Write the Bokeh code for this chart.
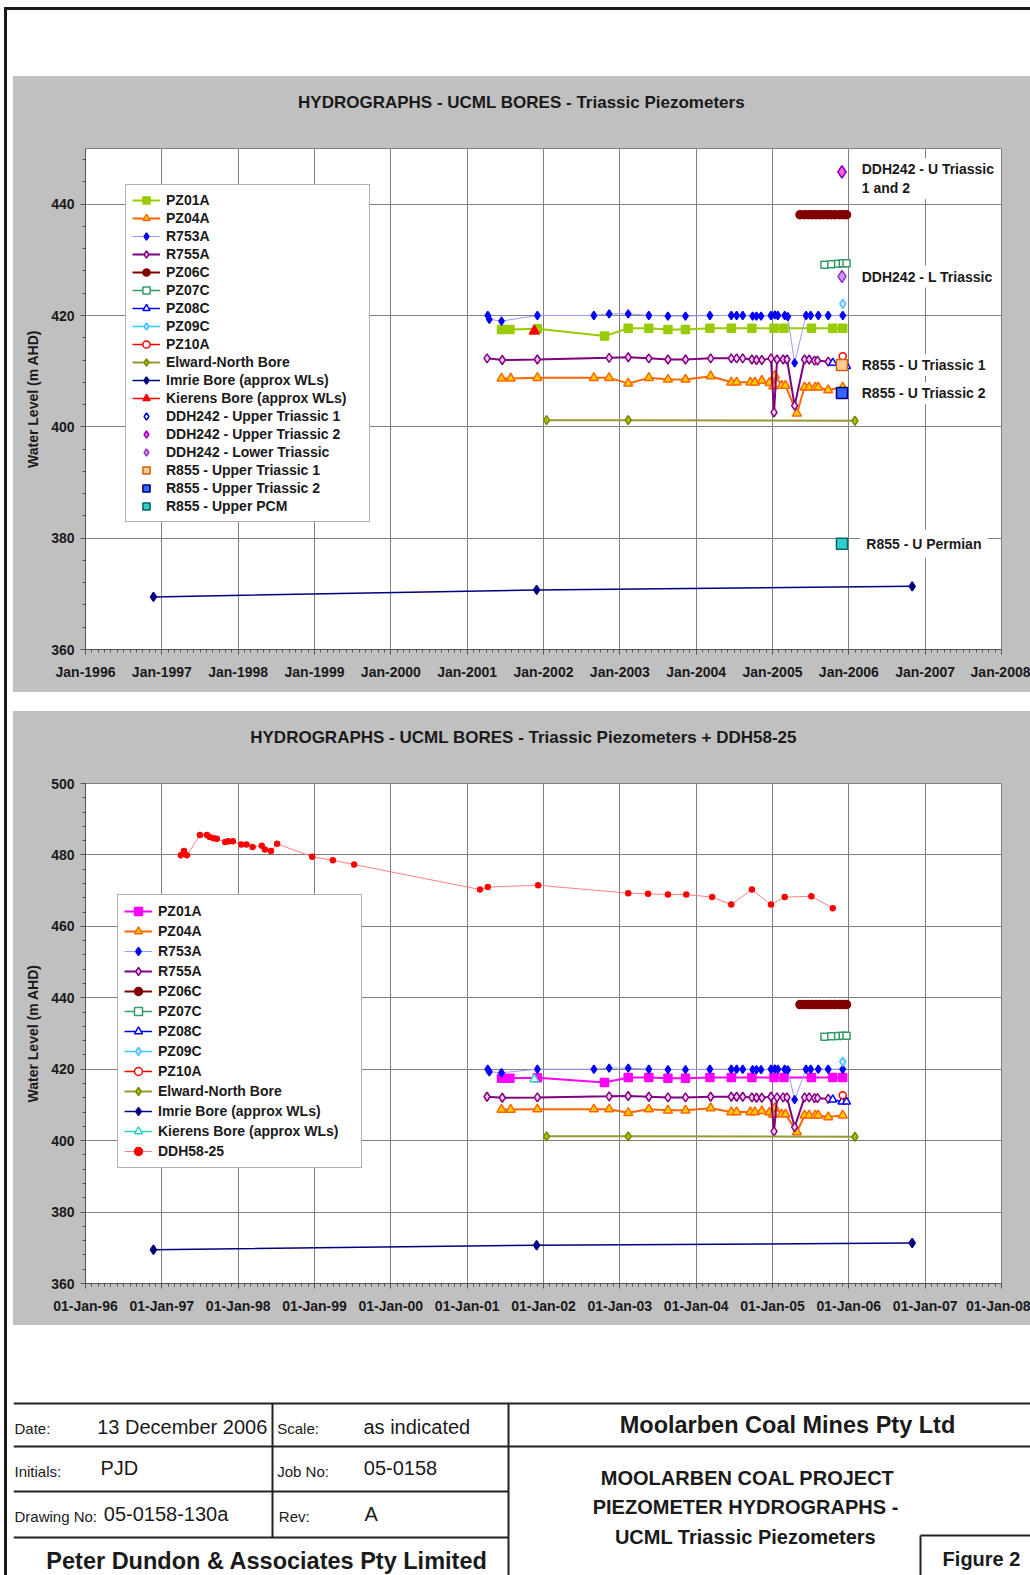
from bokeh.plotting import figure
from bokeh.models import Range1d, FixedTicker, Legend, LegendItem, Label, Div
from bokeh.layouts import row, column
from bokeh.embed import file_html
from bokeh.resources import INLINE
from bokeh.core.properties import value

FONT = "Liberation Sans"

# ---------------- axis ticks / labels ----------------
tick_years = [1996, 1997, 1998, 1999, 2000, 2001, 2002, 2003, 2004, 2005, 2006, 2007, 2008]
tick_labels_top = ["Jan-1996", "Jan-1997", "Jan-1998", "Jan-1999", "Jan-2000", "Jan-2001", "Jan-2002",
                   "Jan-2003", "Jan-2004", "Jan-2005", "Jan-2006", "Jan-2007", "Jan-2008"]
tick_labels_bottom = ["01-Jan-96", "01-Jan-97", "01-Jan-98", "01-Jan-99", "01-Jan-00", "01-Jan-01", "01-Jan-02",
                      "01-Jan-03", "01-Jan-04", "01-Jan-05", "01-Jan-06", "01-Jan-07", "01-Jan-08"]
y_ticks_top = [360, 380, 400, 420, 440]
y_ticks_bottom = [360, 380, 400, 420, 440, 460, 480, 500]

# ---------------- series: time (decimal year) and water level (m AHD) ----------------
pz01a_t = [2001.45, 2001.56, 2001.92, 2002.80, 2003.11, 2003.38, 2003.63, 2003.86, 2004.18, 2004.46,
           2004.73, 2005.02, 2005.15, 2005.51, 2005.79, 2005.92]
pz01a_v = [417.5, 417.5, 417.6, 416.3, 417.7, 417.7, 417.5, 417.5, 417.7, 417.7,
           417.7, 417.7, 417.7, 417.7, 417.7, 417.7]

pz04a_t = [2001.45, 2001.57, 2001.92, 2002.66, 2002.86, 2003.11, 2003.38, 2003.63, 2003.86, 2004.19,
           2004.46, 2004.53, 2004.71, 2004.77, 2004.86, 2004.96, 2005.01, 2005.03, 2005.12, 2005.17,
           2005.32, 2005.42, 2005.48, 2005.56, 2005.60, 2005.73, 2005.92]
pz04a_v = [408.7, 408.7, 408.8, 408.8, 408.8, 407.8, 408.8, 408.5, 408.5, 409.1,
           408.0, 408.0, 408.0, 408.0, 408.3, 407.9, 407.3, 409.2, 407.4, 407.4,
           402.4, 407.1, 407.1, 407.1, 407.1, 406.6, 407.1]

r753a_t = [2001.27, 2001.29, 2001.45, 2001.92, 2002.66, 2002.86, 2003.11, 2003.38, 2003.63, 2003.86,
           2004.18, 2004.46, 2004.53, 2004.61, 2004.74, 2004.79, 2004.85, 2004.98, 2005.03, 2005.07,
           2005.16, 2005.20, 2005.29, 2005.44, 2005.50, 2005.60, 2005.73, 2005.92]
r753a_v = [420.0, 419.3, 419.0, 420.0, 420.0, 420.3, 420.3, 420.0, 419.9, 419.9,
           420.0, 420.0, 420.0, 420.0, 419.9, 419.9, 419.9, 420.0, 420.1, 420.0,
           420.0, 419.8, 411.5, 420.0, 420.0, 420.0, 420.0, 420.0]

r755a_t = [2001.26, 2001.46, 2001.92, 2002.86, 2003.11, 2003.38, 2003.63, 2003.86, 2004.19, 2004.46,
           2004.53, 2004.61, 2004.73, 2004.79, 2004.86, 2004.98, 2005.02, 2005.06, 2005.14, 2005.19,
           2005.29, 2005.42, 2005.48, 2005.55, 2005.59, 2005.73]
r755a_v = [412.3, 412.0, 412.1, 412.4, 412.5, 412.3, 412.1, 412.1, 412.3, 412.3,
           412.3, 412.3, 412.1, 412.0, 412.0, 412.3, 402.6, 412.1, 412.1, 412.1,
           403.8, 412.1, 412.1, 411.9, 411.9, 411.7]

pz06c_t = [2005.36, 2005.42, 2005.47, 2005.52, 2005.57, 2005.62, 2005.67, 2005.72, 2005.77, 2005.82,
           2005.88, 2005.93, 2005.97]
pz06c_v = [438.1, 438.1, 438.1, 438.1, 438.1, 438.1, 438.1, 438.1, 438.1, 438.1,
           438.1, 438.1, 438.1]

pz07c_t = [2005.68, 2005.77, 2005.86, 2005.92, 2005.97]
pz07c_v = [429.1, 429.2, 429.3, 429.4, 429.4]

pz08c_t = [2005.79, 2005.91, 2005.97]
pz08c_v = [411.5, 410.9, 410.9]

pz09c_t = [2005.92]
pz09c_v = [422.1]

pz10a_t = [2005.92]
pz10a_v = [412.7]

elward_t = [2002.04, 2003.11, 2006.08]
elward_v = [401.2, 401.2, 401.1]

imrie_t = [1996.89, 2001.91, 2006.83]
imrie_v = [369.45, 370.7, 371.35]

kierens_t = [2001.88]
kierens_v = [417.2]

ddh242_ut1_t = [2005.91]
ddh242_ut1_v = [445.8]
ddh242_ut2_t = [2005.91]
ddh242_ut2_v = [445.8]
ddh242_lt_t = [2005.91]
ddh242_lt_v = [427.0]

r855_ut1_t = [2005.91]
r855_ut1_v = [411.1]
r855_ut2_t = [2005.91]
r855_ut2_v = [406.1]
r855_pcm_t = [2005.91]
r855_pcm_v = [379.0]

ddh58_t = [1997.25, 1997.29, 1997.33, 1997.50, 1997.59, 1997.63, 1997.68, 1997.72, 1997.83, 1997.87,
           1997.93, 1998.04, 1998.11, 1998.19, 1998.31, 1998.35, 1998.43, 1998.51, 1998.97, 1999.24,
           1999.52, 2001.17, 2001.27, 2001.93, 2003.11, 2003.37, 2003.63, 2003.87, 2004.21, 2004.46,
           2004.73, 2004.98, 2005.16, 2005.51, 2005.79]
ddh58_v = [479.9, 481.1, 479.9, 485.6, 485.6, 485.0, 484.7, 484.5, 483.6, 483.8,
           483.8, 482.9, 482.9, 482.2, 482.6, 481.5, 481.1, 483.1, 479.5, 478.5,
           477.3, 470.3, 471.0, 471.5, 469.3, 469.1, 468.9, 468.9, 468.2, 466.1,
           470.3, 466.1, 468.2, 468.4, 465.1]


def sty(line, lw, marker, size, fill, outline):
    return dict(line=line, lw=lw, marker=marker, size=size, fill=fill, outline=outline)


series_top = [
    ("PZ01A", pz01a_t, pz01a_v, sty("#99CC00", 2, "square", 8, "#99CC00", "#99CC00")),
    ("PZ04A", pz04a_t, pz04a_v, sty("#FF6600", 2, "triangle", 9, "#FFCC00", "#FF6600")),
    ("R753A", r753a_t, r753a_v, sty("#9999FF", 1, "diamond", 8, "#0000FF", "#0000FF")),
    ("R755A", r755a_t, r755a_v, sty("#800080", 2, "diamond", 9, "#FFCCFF", "#800080")),
    ("PZ06C", pz06c_t, pz06c_v, sty("#800000", 2, "circle", 8, "#800000", "#800000")),
    ("PZ07C", pz07c_t, pz07c_v, sty("#339966", 1.5, "square", 7, "white", "#339966")),
    ("PZ08C", pz08c_t, pz08c_v, sty("#0000FF", 1.5, "triangle", 8, "white", "#0000FF")),
    ("PZ09C", pz09c_t, pz09c_v, sty("#33CCFF", 1.5, "diamond", 9, "#FFCCFF", "#33CCFF")),
    ("PZ10A", pz10a_t, pz10a_v, sty("#FF0000", 1.5, "circle", 7, "white", "#FF0000")),
    ("Elward-North Bore", elward_t, elward_v, sty("#999933", 2, "diamond", 9, "#99CC00", "#808000")),
    ("Imrie Bore (approx WLs)", imrie_t, imrie_v, sty("#000080", 1.5, "diamond", 9, "#000080", "#000080")),
    ("Kierens Bore (approx WLs)", kierens_t, kierens_v, sty("#FF0000", 1.5, "triangle", 10, "#FF0000", "#FF0000")),
    ("DDH242 - Upper Triassic 1", ddh242_ut1_t, ddh242_ut1_v, sty(None, 0, "diamond", 12, "white", "#0000CC")),
    ("DDH242 - Upper Triassic 2", ddh242_ut2_t, ddh242_ut2_v, sty(None, 0, "diamond", 12, "#FF66CC", "#9900CC")),
    ("DDH242 - Lower Triassic", ddh242_lt_t, ddh242_lt_v, sty(None, 0, "diamond", 12, "#CC99FF", "#9933CC")),
    ("R855 - Upper Triassic 1", r855_ut1_t, r855_ut1_v, sty(None, 0, "square", 11, "#FFCC99", "#CC6600")),
    ("R855 - Upper Triassic 2", r855_ut2_t, r855_ut2_v, sty(None, 0, "square", 11, "#3366FF", "#000080")),
    ("R855 - Upper PCM", r855_pcm_t, r855_pcm_v, sty(None, 0, "square", 11, "#33CCCC", "#006666")),
]

series_bottom = [
    ("PZ01A", pz01a_t, pz01a_v, sty("#FF00FF", 2, "square", 8, "#FF00FF", "#FF00FF")),
    ("PZ04A", pz04a_t, pz04a_v, sty("#FF6600", 2, "triangle", 9, "#FFCC00", "#FF6600")),
    ("R753A", r753a_t, r753a_v, sty("#9999FF", 1, "diamond", 8, "#0000FF", "#0000FF")),
    ("R755A", r755a_t, r755a_v, sty("#800080", 2, "diamond", 9, "#FFCCFF", "#800080")),
    ("PZ06C", pz06c_t, pz06c_v, sty("#800000", 2, "circle", 8, "#800000", "#800000")),
    ("PZ07C", pz07c_t, pz07c_v, sty("#339966", 1.5, "square", 7, "white", "#339966")),
    ("PZ08C", pz08c_t, pz08c_v, sty("#0000FF", 1.5, "triangle", 8, "white", "#0000FF")),
    ("PZ09C", pz09c_t, pz09c_v, sty("#33CCFF", 1.5, "diamond", 9, "#FFCCFF", "#33CCFF")),
    ("PZ10A", pz10a_t, pz10a_v, sty("#FF0000", 1.5, "circle", 7, "white", "#FF0000")),
    ("Elward-North Bore", elward_t, elward_v, sty("#999933", 2, "diamond", 9, "#99CC00", "#808000")),
    ("Imrie Bore (approx WLs)", imrie_t, imrie_v, sty("#000080", 1.5, "diamond", 9, "#000080", "#000080")),
    ("Kierens Bore (approx WLs)", kierens_t, kierens_v, sty("#33CCCC", 1.5, "triangle", 9, "white", "#33CCCC")),
    ("DDH58-25", ddh58_t, ddh58_v, sty("#FF8080", 1, "circle", 5, "#FF0000", "#FF0000")),
]

notes_top = [
    (2006.13, 444.6, "DDH242 - U Triassic\n1 and 2", 3),
    (2006.13, 427.0, "DDH242 - L Triassic", 3),
    (2006.13, 411.1, "R855 - U Triassic 1", 3),
    (2006.13, 406.1, "R855 - U Triassic 2", 3),
    (2006.15, 379.0, "R855 - U Permian", 6),
]

GRAY = "#C0C0C0"
FIG_W = 1017
HEAD_H = 62
TOP_PAD = 10
GRAY_HOST = {"background-color": GRAY}


def no_align(fig):
    try:
        fig.frame_align = False
    except Exception:
        pass


def make_header(title, cx, cy):
    h = figure(width=FIG_W, height=HEAD_H, x_range=Range1d(0, FIG_W), y_range=Range1d(0, HEAD_H),
               output_backend="svg", toolbar_location=None, min_border=0,
               x_axis_location=None, y_axis_location=None, outline_line_color=None,
               background_fill_color=GRAY, border_fill_color=GRAY, margin=0, styles=GRAY_HOST)
    h.grid.visible = False
    no_align(h)
    h.add_layout(Label(x=cx, y=cy, text=title, text_font=FONT, text_font_style="bold",
                       text_font_size="17px", text_color="#1a1a1a", text_align="center",
                       text_baseline="middle"))
    return h


def make_chart(ymax, yticks, tick_labels, series, legend_xy, row_h, height, mb_bottom, notes):
    p = figure(width=FIG_W, height=height, x_range=Range1d(1996, 2008), y_range=Range1d(360, ymax),
               output_backend="svg", toolbar_location=None,
               min_border_left=72, min_border_right=29, min_border_top=TOP_PAD,
               min_border_bottom=mb_bottom, background_fill_color="white",
               border_fill_color=GRAY, outline_line_color="#808080", margin=0, styles=GRAY_HOST)
    p.xaxis.ticker = FixedTicker(ticks=tick_years, minor_ticks=[1996 + m / 12 for m in range(145)])
    p.xaxis.major_label_overrides = {y: lab for y, lab in zip(tick_years, tick_labels)}
    p.yaxis.ticker = FixedTicker(ticks=yticks, minor_ticks=list(range(360, ymax + 1, 4)))
    for ax in (p.xaxis[0], p.yaxis[0]):
        ax.axis_line_color = "#555555"
        ax.major_tick_line_color = "#555555"
        ax.minor_tick_line_color = "#555555"
        ax.major_tick_in = 0
        ax.major_tick_out = 5
        ax.minor_tick_in = 0
        ax.minor_tick_out = 3
        ax.major_label_text_font = FONT
        ax.major_label_text_font_style = "bold"
        ax.major_label_text_font_size = "14px"
        ax.major_label_text_color = "#1a1a1a"
    p.xaxis.major_label_standoff = 9
    p.yaxis.major_label_standoff = 6
    p.yaxis.axis_label = "Water Level (m AHD)"
    p.yaxis.axis_label_text_font = FONT
    p.yaxis.axis_label_text_font_size = "14px"
    p.yaxis.axis_label_text_font_style = "bold"
    p.yaxis.axis_label_text_color = "#1a1a1a"
    p.yaxis.axis_label_standoff = 7
    p.grid.grid_line_color = "#808080"
    p.grid.grid_line_width = 1

    items = []
    for name, t, v, s in series:
        rs = []
        if s["line"]:
            rs.append(p.line(t, v, line_color=s["line"], line_width=s["lw"]))
        rs.append(p.scatter(t, v, marker=s["marker"], size=s["size"],
                            fill_color=s["fill"], line_color=s["outline"], line_width=1.5))
        items.append(LegendItem(label=name, renderers=rs))

    for x, y, txt, pad in notes:
        p.add_layout(Label(x=x, y=y, text=txt, text_font=FONT, text_font_style="bold",
                           text_font_size="14px", text_color="#1a1a1a", text_baseline="middle",
                           background_fill_color="white", padding=pad))

    legend = Legend(items=items, location=legend_xy, orientation="vertical", padding=6, spacing=0,
                    label_height=row_h, glyph_height=row_h, glyph_width=28, label_standoff=6,
                    label_width=197, label_text_font=FONT, label_text_font_style="bold",
                    label_text_font_size="14px", label_text_color="#1a1a1a",
                    border_line_color="#666666", border_line_width=1,
                    background_fill_color="white", background_fill_alpha=1.0, margin=0)
    p.add_layout(legend)
    return p


h1 = make_header("HYDROGRAPHS - UCML BORES - Triassic Piezometers", 508, HEAD_H - 26)
p1 = make_chart(450, y_ticks_top, tick_labels_top, series_top, (40, 127), 18,
                544 + TOP_PAD, 43, notes_top)
h2 = make_header("HYDROGRAPHS - UCML BORES - Triassic Piezometers + DDH58-25", 510, HEAD_H - 26)
p2 = make_chart(500, y_ticks_bottom, tick_labels_bottom, series_bottom, (32, 115), 20,
                542 + TOP_PAD, 42, [])

# ---------------- title block ----------------
TB_H = 250
tb = figure(width=FIG_W, height=TB_H, x_range=Range1d(0, FIG_W), y_range=Range1d(TB_H, 0),
            output_backend="svg", toolbar_location=None, min_border=0,
            x_axis_location=None, y_axis_location=None, outline_line_color=None, margin=0)
tb.grid.visible = False
no_align(tb)
tb.segment(x0=[0, 0, 0, 0, 259, 495, 907, 907], y0=[78, 121, 166, 212, 78, 78, 210, 210],
           x1=[FIG_W, FIG_W, 495, 495, 259, 495, FIG_W, 907], y1=[78, 121, 166, 212, 212, TB_H, 210, TB_H],
           line_color="#222222", line_width=2)

small_x = [1, 263.7, 1, 263.7, 1, 265.3]
small_y = [102.7, 102.7, 146, 146, 190.7, 190.7]
small_t = ["Date:", "Scale:", "Initials:", "Job No:", "Drawing No:", "Rev:"]
tb.text(x=small_x, y=small_y, text=small_t, text_font=value(FONT), text_font_size="15px",
        text_baseline="middle", text_align="left", text_color="#1a1a1a")

big_x = [83.7, 350, 87, 350.3, 90.3, 351]
big_y = [101, 101, 142.7, 142.7, 188.3, 188.3]
big_t = ["13 December 2006", "as indicated", "PJD", "05-0158", "05-0158-130a", "A"]
tb.text(x=big_x, y=big_y, text=big_t, text_font=value(FONT), text_font_size="20px",
        text_baseline="middle", text_align="left", text_color="#1a1a1a")

tb.text(x=[253.5, 774], y=[235.7, 99],
        text=["Peter Dundon & Associates Pty Limited", "Moolarben Coal Mines Pty Ltd"],
        text_font=value(FONT), text_font_size="23.5px", text_font_style="bold",
        text_baseline="middle", text_align="center", text_color="#1a1a1a")
tb.text(x=[734, 732, 732, 968], y=[152.5, 181.6, 211.7, 233],
        text=["MOOLARBEN COAL PROJECT", "PIEZOMETER HYDROGRAPHS -", "UCML Triassic Piezometers", "Figure 2"],
        text_font=value(FONT), text_font_size="20px", text_font_style="bold",
        text_baseline="middle", text_align="center", text_color="#1a1a1a")

# ---------------- page frame (border strips) ----------------
strip = Div(text="", width=13, height=1575, margin=0,
            styles={"background": "linear-gradient(#1a1a1a, #1a1a1a) 4px 7px / 9px 3px no-repeat, "
                                  "linear-gradient(#ffffff, #ffffff) 0 0 / 13px 7px no-repeat, "
                                  "linear-gradient(to right, #ffffff 4px, #1a1a1a 4px, #1a1a1a 7px, #ffffff 7px)"})
top = Div(text="", width=FIG_W, height=76, margin=0,
          styles={"background": "linear-gradient(to bottom, #ffffff 7px, #1a1a1a 7px, #1a1a1a 10px, #ffffff 10px)"})
gap = Div(text="", width=FIG_W, height=19, margin=0, styles={"background": "#ffffff"})

page = row(strip, column(top, h1, p1, gap, h2, p2, tb, spacing=0, margin=0), spacing=0, margin=0)

with open("out.html", "w") as f:
    f.write(file_html(page, INLINE))
